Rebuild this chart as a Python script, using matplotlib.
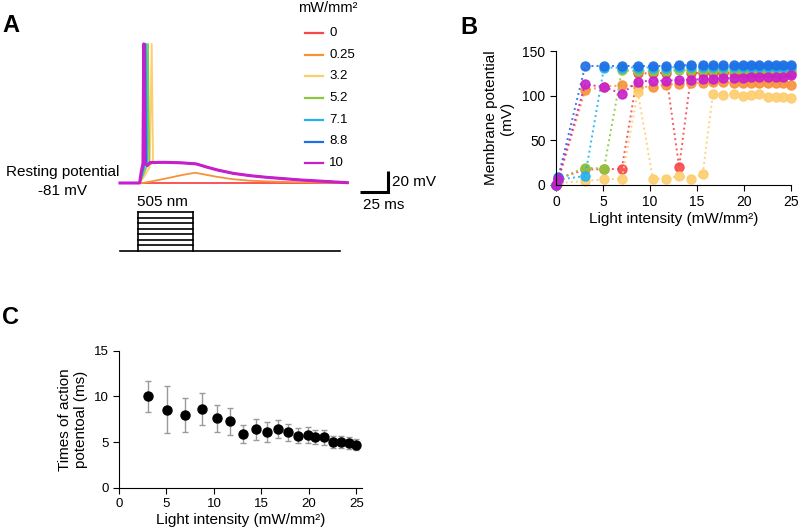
import matplotlib
matplotlib.use("Agg")
import matplotlib.pyplot as plt
from matplotlib.lines import Line2D

plt.rcParams['font.family'] = ['Liberation Sans', 'DejaVu Sans']

# ---- data ----
legend_labels = ["0", "0.25", "3.2", "5.2", "7.1", "8.8", "10"]
colors = ["#f8484a", "#f7923a", "#fdcd6e", "#8cc83f", "#22b2ee", "#1f6fe6", "#c81fcc"]

# panel A traces: (ms, mV) key points
t_red = [0, 203]
v_red = [-81, -81]
t_orange = [0, 20, 28, 42, 55, 67, 76, 86, 100, 116, 140, 161, 203]
v_orange = [-81, -81, -79.5, -76.5, -73.5, -71.2, -73, -75, -77.3, -78.8, -79.8, -80.3, -80.9]
t_yellow = [0, 17.5, 21.5, 26.5, 28.3, 29.5, 31, 33]
v_yellow = [-81, -81, -75, -66, 51.5, -61, -62.5, -61.5]
t_green = [0, 17.5, 20.5, 24, 25, 26, 27.5, 29]
v_green = [-81, -81, -74, -65, 51.5, -62, -63, -61.5]
t_cyan = [0, 17.5, 19.8, 22.3, 23.2, 24.2, 25.6, 27.5]
v_cyan = [-81, -81, -73, -64, 51.5, -62, -63.5, -61.5]
t_blue = [0, 17.5, 19.3, 21.4, 22.3, 23.3, 25, 27]
v_blue = [-81, -81, -72, -63.5, 51.5, -62, -64, -61.5]
t_magenta = [0, 17.5, 19, 20.5, 21.2, 22.2, 24.4, 26.8]
v_magenta = [-81, -81, -70, -62.5, 51.5, -62, -64.5, -61.5]
# shared plateau + decay after the spike
t_tail = [40, 55, 68, 78, 87, 101, 116, 131, 161, 203]
v_tail = [-61.3, -61.8, -62.8, -66, -68.6, -71.8, -74, -75.6, -78.1, -80.7]

stim_on, stim_off, stim_end = 16, 65, 196

# panel B
intensity = [0, 0.25, 3.1, 5.1, 7.0, 8.7, 10.3, 11.7, 13.1, 14.4, 15.6, 16.7,
             17.8, 18.9, 19.9, 20.7, 21.6, 22.5, 23.4, 24.2, 25.0]
mp_red = [0, 7, 17.5, 17.5, 18.3, 125, 125, 125.7, 20, 125.5, 125.5, 125.5,
          125.5, 125.5, 125.5, 125.5, 125.5, 125.5, 125.7, 125.7, 125.7]
mp_orange = [0, 5, 106, 110, 111.6, 110, 110, 112.3, 113.4, 114.2, 114.6, 115,
             115, 114.6, 114.6, 114.6, 114.6, 114.6, 114.6, 114.2, 112]
mp_yellow = [0, 2, 4.5, 6.3, 7.1, 104, 7.1, 7.1, 10, 7, 12, 102.2,
             101.1, 101.5, 100, 101, 101.5, 98.9, 98.5, 98.1, 97]
mp_green = [0, 7, 19.4, 18.3, 128.4, 127.6, 128, 128, 128.4, 128.4, 128.4, 128.4,
            128.4, 128.4, 128.4, 128.4, 128.4, 128.4, 128.4, 128.4, 128.4]
mp_cyan = [0, 6, 10, 131.3, 131.3, 131.5, 131.5, 131.5, 132, 132, 132, 132,
           132, 132, 132, 132, 132, 132, 132, 132, 132]
mp_blue = [0, 9, 133.2, 133.2, 133.2, 133.2, 133.2, 133.2, 134, 134, 134, 134,
           134, 134, 134, 134, 134, 134, 134, 134, 134]
mp_magenta = [0, 7, 112.7, 109.7, 102.2, 115.7, 116.8, 116.8, 117.5, 118, 118.3, 119,
              119.4, 119.8, 120, 120.5, 120.9, 120.9, 121.3, 121.3, 123]

# panel C
c_intensity = intensity[2:]
ap_time = [10.0, 8.55, 7.95, 8.6, 7.6, 7.25, 5.85, 6.4, 6.1, 6.4, 6.05, 5.7,
           5.75, 5.55, 5.5, 5.05, 5.0, 4.85, 4.7]
ap_err = [1.7, 2.55, 1.9, 1.75, 1.45, 1.45, 1.0, 1.15, 1.1, 1.0, 0.9, 0.8,
          0.9, 0.8, 0.8, 0.65, 0.65, 0.65, 0.6]

W, H = 799, 532
def fx(px):
    return px / W
def fy(py):
    return 1 - py / H

fig = plt.figure(figsize=(W / 100, H / 100), dpi=100)

# ---- panel A ----
px_ms, px_mv = 1.12, 1.05
ox, oy = 120, 183
axA = fig.add_axes([0, fy(300), fx(450), 300 / H])
axA.axis('off')
axA.set_xlim(-ox / px_ms, (450 - ox) / px_ms)
axA.set_ylim(-81 - (300 - oy) / px_mv, -81 + oy / px_mv)

traces = [(t_red, v_red), (t_orange, v_orange),
          (t_yellow + t_tail, v_yellow + v_tail), (t_green + t_tail, v_green + v_tail),
          (t_cyan + t_tail, v_cyan + v_tail), (t_blue + t_tail, v_blue + v_tail),
          (t_magenta + t_tail, v_magenta + v_tail)]
for i, (t, v) in enumerate(traces):
    axA.plot(t, v, color=colors[i], lw=2.2 if i == 6 else 1.3)

# scale bar
axA.plot([214, 239, 239], [-89.3, -89.3, -69.3], color='black', lw=2.2,
         solid_joinstyle='miter', solid_capstyle='butt')

# stimulus
axS = fig.add_axes([0, fy(300), fx(450), 300 / H])
axS.axis('off')
step = 39 / 7
axS.set_xlim(axA.get_xlim())
axS.set_ylim(-(300 - 251) / step, 251 / step)
n_steps = len(legend_labels)
axS.plot([0, stim_end], [0, 0], color='black', lw=1.2)
axS.plot([stim_on, stim_on], [0, n_steps], color='black', lw=1.2)
axS.plot([stim_off, stim_off], [0, n_steps], color='black', lw=1.2)
for k in range(1, n_steps + 1):
    axS.plot([stim_on, stim_off], [k, k], color='black', lw=1.2)

fig.text(fx(162), fy(202), "505 nm", ha='center', va='center', fontsize=11)
fig.text(fx(63), fy(172), "Resting potential", ha='center', va='center', fontsize=11)
fig.text(fx(63), fy(191), "-81 mV", ha='center', va='center', fontsize=11)
fig.text(fx(392), fy(182), "20 mV", ha='left', va='center', fontsize=11)
fig.text(fx(384), fy(205), "25 ms", ha='center', va='center', fontsize=11)

# legend
fig.text(fx(328), fy(8), "mW/mm²", ha='center', va='center', fontsize=10.5)
for i, lab in enumerate(legend_labels):
    y = 33 + 21.7 * i
    fig.add_artist(Line2D([fx(305), fx(323)], [fy(y), fy(y)], color=colors[i], lw=1.6))
    fig.text(fx(329), fy(y), lab, ha='left', va='center', fontsize=9.5)

# ---- panel B ----
axB = fig.add_axes([fx(556), fy(185), fx(791) - fx(556), (185 - 51) / H])
series = [mp_red, mp_orange, mp_yellow, mp_green, mp_cyan, mp_blue, mp_magenta]
for i, s in enumerate(series):
    axB.plot(intensity, s, linestyle=':', lw=1.4, color=colors[i], marker='o',
             markersize=6.5, alpha=0.9, clip_on=False)
axB.set_xlim(0, 25)
axB.set_ylim(0, 150)
axB.set_xticks([0, 5, 10, 15, 20, 25])
axB.set_yticks([0, 50, 100, 150])
axB.spines['top'].set_visible(False)
axB.spines['right'].set_visible(False)
axB.tick_params(direction='out', length=4, labelsize=10)
axB.set_xlabel("Light intensity (mW/mm²)", fontsize=11, labelpad=2)
axB.set_ylabel("Membrane potential\n(mV)", fontsize=11, labelpad=6)

# ---- panel C ----
axC = fig.add_axes([fx(119), fy(487.7), fx(362) - fx(119), (487.7 - 350.7) / H])
axC.errorbar(c_intensity, ap_time, yerr=ap_err, fmt='o', color='black',
             markersize=6.5, ecolor='#9a9a9a', elinewidth=1, capsize=2.5, capthick=1)
axC.set_xlim(0, 25.6)
axC.set_ylim(0, 15)
axC.set_xticks([0, 5, 10, 15, 20, 25])
axC.set_yticks([0, 5, 10, 15])
axC.spines['top'].set_visible(False)
axC.spines['right'].set_visible(False)
axC.tick_params(direction='out', length=4, labelsize=9.5)
axC.set_xlabel("Light intensity (mW/mm²)", fontsize=11, labelpad=2)
axC.set_ylabel("Times of action\npotentoal (ms)", fontsize=11, labelpad=4)

# panel letters
fig.text(fx(2), fy(26), "A", fontsize=17, fontweight='bold', va='center')
fig.text(fx(460), fy(28), "B", fontsize=17, fontweight='bold', va='center')
fig.text(fx(2), fy(317), "C", fontsize=17, fontweight='bold', va='center')

fig.savefig("out.png", dpi=100)
